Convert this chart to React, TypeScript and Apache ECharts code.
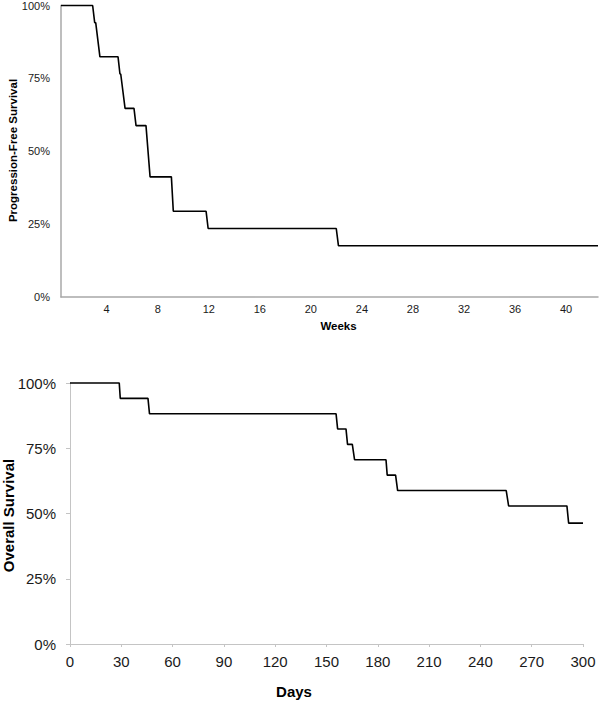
import React, { useEffect, useRef } from "react";
import * as echarts from "echarts";

// Progression-free survival curve (vertices of the Kaplan-Meier step line)
const pfsWeeks = [0.42, 2.9, 3.06, 3.14, 3.47, 4.89, 5.04, 5.1, 5.44, 6.14, 6.3, 7.08, 7.4, 9.07, 9.22, 11.79, 11.95, 21.99, 22.16, 42.5];
const pfsSurvival = [100, 100, 94.1, 94.1, 82.4, 82.4, 76.5, 76.5, 64.7, 64.7, 58.8, 58.8, 41.2, 41.2, 29.4, 29.4, 23.5, 23.5, 17.6, 17.6];
const pfsWeekTicks = [4, 8, 12, 16, 20, 24, 28, 32, 36, 40];

// Overall survival curve
const osDays = [0, 28.8, 29.4, 45.6, 46.5, 155.6, 156.5, 161.4, 162.3, 165.1, 166.4, 184.8, 185.5, 190.4, 191.6, 255.1, 256.5, 290.6, 291.6, 300];
const osSurvival = [100, 100, 94.1, 94.1, 88.2, 88.2, 82.4, 82.4, 76.5, 76.5, 70.6, 70.6, 64.7, 64.7, 58.8, 58.8, 52.9, 52.9, 46.3, 46.3];
const percentTicks = [0, 25, 50, 75, 100];

const FONT = "'Liberation Sans', Arial, Helvetica, sans-serif";

export default function App() {
  const ref = useRef<HTMLDivElement>(null);

  useEffect(() => {
    document.body.style.margin = "0";
    if (!ref.current) return;
    const chart = echarts.init(ref.current, undefined, { renderer: "svg" });

    const pfsData = pfsWeeks.map((w, i) => [w, pfsSurvival[i]]);
    const osData = osDays.map((d, i) => [d, osSurvival[i]]);

    chart.setOption({
      animation: false,
      backgroundColor: "#ffffff",
      grid: [
        { left: 61, top: 5, width: 537, height: 292, containLabel: false },
        { left: 70, top: 383, width: 513, height: 261, containLabel: false },
      ],
      xAxis: [
        {
          gridIndex: 0,
          type: "value",
          min: 0.42,
          max: 42.5,
          splitLine: { show: false },
          axisLine: { show: true, lineStyle: { color: "#a8a8a8", width: 1.5 } },
          axisTick: { show: false },
          axisLabel: {
            customValues: pfsWeekTicks,
            color: "#1a1a1a",
            fontSize: 11,
            fontFamily: FONT,
            margin: 6,
          },
        },
        {
          gridIndex: 1,
          type: "value",
          min: 0,
          max: 300,
          interval: 30,
          splitLine: { show: false },
          axisLine: { show: true, lineStyle: { color: "#c4c4c4", width: 1 } },
          axisTick: { show: true, inside: false, length: 3, lineStyle: { color: "#c4c4c4" } },
          axisLabel: {
            color: "#1a1a1a",
            fontSize: 15,
            fontFamily: FONT,
            margin: 10,
          },
        },
      ],
      yAxis: [
        {
          gridIndex: 0,
          type: "value",
          min: 0,
          max: 100,
          interval: 25,
          splitLine: { show: false },
          axisLine: { show: true, lineStyle: { color: "#a8a8a8", width: 1.5 } },
          axisTick: { show: false },
          axisLabel: {
            customValues: percentTicks,
            formatter: "{value}%",
            color: "#1a1a1a",
            fontSize: 11,
            fontFamily: FONT,
            margin: 11,
          },
        },
        {
          gridIndex: 1,
          type: "value",
          min: 0,
          max: 100,
          interval: 25,
          splitLine: { show: false },
          axisLine: { show: true, lineStyle: { color: "#c4c4c4", width: 1 } },
          axisTick: { show: true, inside: false, length: 4, lineStyle: { color: "#c4c4c4" } },
          axisLabel: {
            formatter: "{value}%",
            color: "#1a1a1a",
            fontSize: 15,
            fontFamily: FONT,
            margin: 14,
          },
        },
      ],
      series: [
        {
          type: "line",
          xAxisIndex: 0,
          yAxisIndex: 0,
          data: pfsData,
          symbol: "none",
          clip: false,
          lineStyle: { color: "#000000", width: 1.6 },
        },
        {
          type: "line",
          xAxisIndex: 1,
          yAxisIndex: 1,
          data: osData,
          symbol: "none",
          clip: false,
          lineStyle: { color: "#000000", width: 1.6 },
        },
      ],
      graphic: [
        {
          type: "text",
          x: 12.5,
          y: 150.5,
          rotation: Math.PI / 2,
          style: {
            text: "Progression-Free Survival",
            font: `bold 11.5px ${FONT}`,
            fill: "#000000",
            align: "center",
            verticalAlign: "middle",
          },
        },
        {
          type: "text",
          x: 338.5,
          y: 325.5,
          style: {
            text: "Weeks",
            font: `bold 11.5px ${FONT}`,
            fill: "#000000",
            align: "center",
            verticalAlign: "middle",
          },
        },
        {
          type: "text",
          x: 8,
          y: 515.5,
          rotation: Math.PI / 2,
          style: {
            text: "Overall Survival",
            font: `bold 15px ${FONT}`,
            fill: "#000000",
            align: "center",
            verticalAlign: "middle",
          },
        },
        {
          type: "text",
          x: 294,
          y: 691.5,
          style: {
            text: "Days",
            font: `bold 15px ${FONT}`,
            fill: "#000000",
            align: "center",
            verticalAlign: "middle",
          },
        },
      ],
    });

    return () => {
      chart.dispose();
    };
  }, []);

  return <div ref={ref} style={{ width: 600, height: 701 }} />;
}
